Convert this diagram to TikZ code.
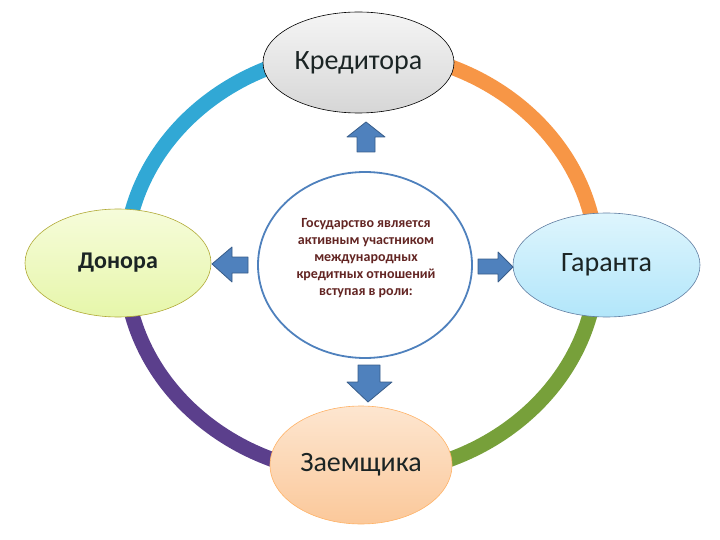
\documentclass[tikz,border=0pt]{standalone}
\usepackage{fontspec}
\setmainfont{Carlito}
\usetikzlibrary{shapes.geometric}
\definecolor{ringblue}{HTML}{31A8D5}
\definecolor{ringorange}{HTML}{F79646}
\definecolor{ringgreen}{HTML}{77A03A}
\definecolor{ringpurple}{HTML}{5B3F8C}
\definecolor{arrowfill}{HTML}{4F81BD}
\definecolor{arrowline}{HTML}{385D8A}
\definecolor{rolename}{HTML}{1B2424}
\definecolor{coretext}{HTML}{632523}

\begin{document}
\begin{tikzpicture}[x=1pt, y=-1pt,
    ring/.style={line width=15pt},
    role/.style={ellipse, inner sep=0pt, line width=0.6pt, text=rolename,
      font=\fontsize{28}{30}\selectfont},
    blockarrow/.style={fill=arrowfill, draw=arrowline, line width=0.8pt, line join=round}]
  \useasboundingbox (0,0) rectangle (720,540);
  \coordinate (hub) at (361,263);
  \draw[ring, ringblue] (hub) ++(180:236 and 212) arc[start angle=180, end angle=270, x radius=236, y radius=212];
  \draw[ring, ringorange] (hub) ++(270:236 and 212) arc[start angle=270, end angle=360, x radius=236, y radius=212];
  \draw[ring, ringgreen] (hub) ++(0:236 and 212) arc[start angle=0, end angle=90, x radius=236, y radius=212];
  \draw[ring, ringpurple] (hub) ++(90:236 and 212) arc[start angle=90, end angle=180, x radius=236, y radius=212];
  \node[role, draw=black, top color=gray!8, bottom color=gray!32,
    minimum width=191, minimum height=101] (kred) at (358.5,62.5) {Кредитора};
  \node[role, draw=olive!70, top color={rgb,255:red,246;green,252;blue,218}, bottom color={rgb,255:red,230;green,246;blue,170},
    minimum width=186, minimum height=108, font=\bfseries\fontsize{24}{26}\selectfont] (donor) at (118,263) {Донора};
  \node[role, draw=arrowline!80, top color={rgb,255:red,222;green,245;blue,253}, bottom color={rgb,255:red,178;green,230;blue,250},
    minimum width=187, minimum height=104] (garant) at (606.5,265) {Гаранта};
  \node[role, draw=orange!60, top color={rgb,255:red,253;green,230;blue,208}, bottom color={rgb,255:red,251;green,200;blue,154},
    minimum width=182, minimum height=118] (zaem) at (361,465) {Заемщика};
  \node[ellipse, draw=arrowfill, line width=1.8pt, fill=white,
    minimum width=214, minimum height=186] (core) at (365,265) {};
  \node[align=center, text=coretext, font=\bfseries\fontsize{14}{17}\selectfont] (coretxt) at (366,258)
    {Государство является\\активным участником\\международных\\кредитных отношений\\вступая в роли:};
  \draw[blockarrow] (366,122) -- (385,137) -- (375,137) -- (375,152) -- (357,152) -- (357,137) -- (347,137) -- cycle;
  \draw[blockarrow] (212,264) -- (232,247) -- (232,257) -- (248,257) -- (248,273) -- (232,273) -- (232,282) -- cycle;
  \draw[blockarrow] (513,267) -- (498,252) -- (498,259) -- (478,259) -- (478,274) -- (498,274) -- (498,282) -- cycle;
  \draw[blockarrow] (368,402) -- (392,382) -- (380,382) -- (380,365) -- (358,365) -- (358,382) -- (347,382) -- cycle;
\end{tikzpicture}
\end{document}
